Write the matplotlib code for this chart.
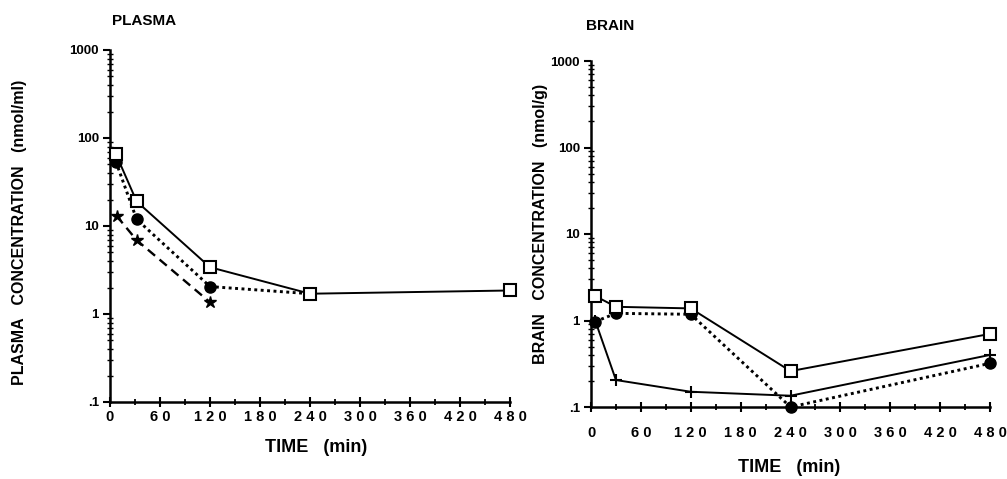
import matplotlib
matplotlib.use("Agg")
import matplotlib.pyplot as plt
from matplotlib.ticker import FixedLocator, LogLocator, NullFormatter

plt.rcParams['font.family'] = ['Liberation Sans', 'DejaVu Sans']
plt.rcParams['font.weight'] = 'bold'

# ---- data ----
plasma_time = [7, 32, 120, 240, 480]
plasma_square = [66, 19, 3.4, 1.7, 1.85]
plasma_circle_time = [7, 32, 120, 240]
plasma_circle = [54, 11.9, 2.05, 1.7]
plasma_star_time = [8, 32, 120]
plasma_star = [13, 6.9, 1.36]

brain_time = [5, 30, 120, 240, 480]
brain_square = [1.92, 1.44, 1.38, 0.26, 0.70]
brain_circle = [0.97, 1.21, 1.18, 0.10, 0.32]
brain_plus = [1.0, 0.205, 0.15, 0.135, 0.40]

x_ticks = [0, 60, 120, 180, 240, 300, 360, 420, 480]
x_ticklabels = ['0', '6 0', '1 2 0', '1 8 0', '2 4 0', '3 0 0', '3 6 0', '4 2 0', '4 8 0']
y_ticks = [0.1, 1, 10, 100, 1000]
y_ticklabels = ['.1', '1', '10', '100', '1000']

W, H = 1007, 479
fig = plt.figure(figsize=(W / 100, H / 100), dpi=100)

def frac(x0, y0, x1, y1):
    return [x0 / W, 1 - y1 / H, (x1 - x0) / W, (y1 - y0) / H]

ax1 = fig.add_axes(frac(110, 50, 510, 402))
ax2 = fig.add_axes(frac(591, 61, 990, 407))

def style(ax, xpad):
    ax.set_yscale('log')
    ax.set_xlim(0, 480)
    ax.set_ylim(0.1, 1000)
    for s in ['top', 'right']:
        ax.spines[s].set_visible(False)
    for s in ['left', 'bottom']:
        ax.spines[s].set_linewidth(1.8)
    ax.xaxis.set_major_locator(FixedLocator(x_ticks))
    ax.xaxis.set_minor_locator(FixedLocator([30, 90, 150, 210, 270, 330, 390, 450]))
    ax.set_xticklabels(x_ticklabels)
    ax.yaxis.set_major_locator(FixedLocator(y_ticks))
    ax.set_yticklabels(y_ticklabels)
    ax.yaxis.set_minor_locator(LogLocator(base=10, subs=range(2, 10)))
    ax.yaxis.set_minor_formatter(NullFormatter())
    ax.tick_params(axis='x', which='major', direction='inout', length=7, width=1.5,
                   labelsize=10.5, pad=xpad)
    ax.tick_params(axis='x', which='minor', direction='inout', length=5, width=1.3)
    ax.tick_params(axis='y', which='major', direction='out', length=5, width=1.5,
                   labelsize=9.5, pad=3)
    ax.tick_params(axis='y', which='minor', direction='inout', length=4, width=1.0)
    for lab in ax.get_xticklabels() + ax.get_yticklabels():
        lab.set_fontweight('bold')

lw = 1.4
# plasma
ax1.plot(plasma_time, plasma_square, '-', color='black', lw=lw, marker='s', ms=8,
         mfc='white', mec='black', mew=1.5, clip_on=False, zorder=4)
ax1.plot(plasma_circle_time, plasma_circle, color='black', lw=lw + 0.7,
         linestyle=(0, (1, 1.2)), marker='o', ms=8, mfc='black', mec='black',
         clip_on=False, zorder=3)
ax1.plot(plasma_star_time, plasma_star, color='black', lw=lw + 0.3,
         linestyle=(0, (4, 2.5)), marker='*', ms=9, mfc='black', mec='black',
         clip_on=False, zorder=3)
style(ax1, 2)

# brain
ax2.plot(brain_time, brain_square, '-', color='black', lw=lw, marker='s', ms=8,
         mfc='white', mec='black', mew=1.5, clip_on=False, zorder=4)
ax2.plot(brain_time, brain_circle, color='black', lw=lw + 0.7,
         linestyle=(0, (1, 1.2)), marker='o', ms=8, mfc='black', mec='black',
         clip_on=False, zorder=3)
ax2.plot(brain_time, brain_plus, '-', color='black', lw=lw, marker='+', ms=9,
         mew=1.5, mec='black', clip_on=False, zorder=3)
style(ax2, 10)

def ftext(x, y, s, **kw):
    fig.text(x / W, 1 - y / H, s, fontweight='bold', **kw)

ftext(112, 21, 'PLASMA', fontsize=11, va='center', ha='left')
ftext(586, 26, 'BRAIN', fontsize=11, va='center', ha='left')
ftext(20, 232, 'PLASMA   CONCENTRATION   (nmol/ml)', fontsize=11.5, rotation=90,
      va='center', ha='center')
ftext(540, 224, 'BRAIN   CONCENTRATION   (nmol/g)', fontsize=11.5, rotation=90,
      va='center', ha='center')
ftext(316, 447, 'TIME   (min)', fontsize=13, va='center', ha='center')
ftext(789, 468, 'TIME   (min)', fontsize=13, va='center', ha='center')

fig.savefig('out.png', dpi=100)
